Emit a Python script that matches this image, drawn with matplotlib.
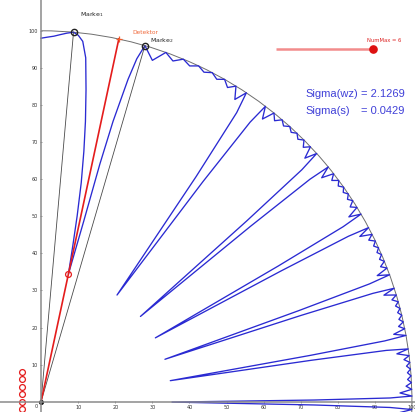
import numpy as np
import matplotlib
matplotlib.use("Agg")
from matplotlib import pyplot as plt
from matplotlib.patches import Arc

# blue curve, polar: angle in degrees, radius
curve_angle = [
    90, 89, 88, 87, 86, 84.98,
    84.2, 83.4, 82.6, 81.8, 81.0, 80.3, 79.6, 79.0, 78.5, 77.9,
    76.7, 76.1, 75.6, 74.9, 74.4, 73.74,
    71.94, 70.33, 68.84, 67.44, 66.12, 64.86, 63.69, 62.52, 61.41, 60.34, 59.31, 58.30, 57.33, 56.39,
    55.91, 55.44, 54.99, 54.54, 54.11, 53.66, 53.21, 52.78,
    51.93, 51.10, 50.27, 49.46, 48.67, 47.89, 47.12, 46.36, 45.62, 44.86, 44.13, 43.42, 42.71, 42.00,
    41.65, 41.31, 40.96, 40.62, 40.28, 39.94, 39.60, 39.26,
    38.59, 37.93, 37.27, 36.62, 35.97, 35.34, 34.70, 34.06, 33.44, 32.82, 32.21, 31.59, 30.98, 30.38,
    30.08, 29.77, 29.48, 29.18, 28.88, 28.58, 28.29, 27.99,
    27.40, 26.82, 26.24, 25.66, 25.08, 24.51, 23.94, 23.37, 22.80, 22.24, 21.68, 21.12, 20.56, 20.01,
    19.73, 19.46, 19.18, 18.90, 18.63, 18.36, 18.08, 17.81,
    17.26, 16.72, 16.18, 15.63, 15.10, 14.56, 14.02, 13.48, 12.95, 12.42, 11.88, 11.35, 10.82, 10.29,
    10.03, 9.76, 9.50, 9.24, 8.97, 8.71, 8.45, 8.18,
    7.66, 7.13, 6.61, 6.08, 5.56, 5.04, 4.52, 3.99, 3.47, 2.95, 2.43, 1.91, 1.39, 0.87,
    0.61, 0.35, 0.09, -0.17, -0.43, -0.69, -0.95, -1.21,
    -1.73, -2.25, -2.77,
]
curve_r = [
    98.0, 98.3, 98.6, 99.1, 99.6, 100,
    99.3, 97.8, 93.5, 85.0, 76.5, 68.5, 60.0, 51.0, 43.0, 35.2,
    50.0, 66.0, 78.0, 90.0, 96.0, 100,
    96.8, 100, 98.5, 100, 99.0, 100, 99.1, 100, 99.0, 100, 98.5, 100, 96.8, 100,
    94.1, 73.7, 47.3, 35.3, 47.3, 73.7, 94.1, 100,
    96.8, 100, 98.5, 100, 99.0, 100, 99.1, 100, 99.0, 100, 98.5, 100, 96.8, 100,
    94.1, 73.7, 47.3, 35.3, 47.3, 73.7, 94.1, 100,
    96.8, 100, 98.5, 100, 99.0, 100, 99.1, 100, 99.0, 100, 98.5, 100, 96.8, 100,
    94.1, 73.7, 47.3, 35.3, 47.3, 73.7, 94.1, 100,
    96.8, 100, 98.5, 100, 99.0, 100, 99.1, 100, 99.0, 100, 98.5, 100, 96.8, 100,
    94.1, 73.7, 47.3, 35.3, 47.3, 73.7, 94.1, 100,
    96.8, 100, 98.5, 100, 99.0, 100, 99.1, 100, 99.0, 100, 98.5, 100, 96.8, 100,
    94.1, 73.7, 47.3, 35.3, 47.3, 73.7, 94.1, 100,
    96.8, 100, 98.5, 100, 99.0, 100, 99.1, 100, 99.0, 100, 98.5, 100, 96.8, 100,
    94.1, 73.7, 47.3, 35.3, 47.3, 73.7, 94.1, 100,
    96.8, 100, 98.5,
]

marke_angle = [84.98, 73.74]
marke_names = ["Marke$_1$", "Marke$_2$"]
detector_angle = 77.9
detector_point_r = 35.2
slit_y = [8, 6, 4, 2, 0, -2, -4, -6, -8]
slit_x = -5.2
num_max = 6
sigma_wz = 2.1269
sigma_s = 0.0429
ticks = list(range(10, 101, 10))

fig = plt.figure(figsize=(4.15, 4.12), dpi=100)
ax = fig.add_axes([0, 0, 1, 1])
ax.set_xlim(-11.05, 100.8)
ax.set_ylim(-2.78, 108.3)
ax.set_aspect("equal")

for side in ["top", "right"]:
    ax.spines[side].set_visible(False)
for side in ["left", "bottom"]:
    ax.spines[side].set_position("zero")
    ax.spines[side].set_color("#8a8a8a")
    ax.spines[side].set_linewidth(1.1)
ax.set_xticks(ticks)
ax.set_yticks(ticks)
ax.tick_params(direction="inout", length=2, width=0.6, color="#8a8a8a",
               labelsize=3.5, labelcolor="#333333", pad=1.5)
ax.text(-1.43, -1.24, "0", fontsize=3.5, color="#333333", ha="center", va="center")

ax.add_patch(Arc((0, 0), 200, 200, theta1=-10, theta2=90, color="#6e6e6e", lw=0.7))

a = np.radians(curve_angle)
r = np.array(curve_r)
ax.plot(r * np.cos(a), r * np.sin(a), color="#2a2ad2", lw=0.95, solid_joinstyle="round")

for ang in marke_angle:
    t = np.radians(ang)
    ax.plot([0, 100 * np.cos(t)], [0, 100 * np.sin(t)], color="#4a4a4a", lw=0.6)
    ax.plot(100 * np.cos(t), 100 * np.sin(t), "o", mfc="none", mec="#222222", ms=4.5, mew=1.0)

td = np.radians(detector_angle)
ax.plot([0, 100 * np.cos(td)], [0, 100 * np.sin(td)], color="#e41c1c", lw=1.2)
ax.plot(100 * np.cos(td), 100 * np.sin(td), "+", color="#f05a28", ms=4.5, mew=0.9)
ax.plot(detector_point_r * np.cos(td), detector_point_r * np.sin(td), "o",
        mfc="none", mec="#e41c1c", ms=4.2, mew=0.9)

ax.plot([slit_x] * len(slit_y), slit_y, "o", mfc="none", mec="#e41c1c", ms=4.2, mew=0.9)
ax.plot(0, 0, "o", color="#111111", ms=2.6)

ax.text(10.5, 104.5, marke_names[0], fontsize=4.5, color="#222222", va="center")
ax.text(29.4, 97.5, marke_names[1], fontsize=4.5, color="#222222", va="center")
ax.text(24.5, 99.6, "Detektor", fontsize=4.2, color="#f06a3c", va="center")

# slider
ax.plot([63.3, 89.4], [95.0, 95.0], color="#f28c8c", lw=1.8, solid_capstyle="butt")
ax.plot(89.4, 95.0, "o", color="#dd1111", ms=5.2)
ax.text(87.9, 97.4, "NumMax = %d" % num_max, fontsize=3.8, color="#dd2222", va="center")

ax.text(71.2, 82.9, "Sigma(wz)", fontsize=8, color="#4040d8", family="Liberation Sans", va="center")
ax.text(86.3, 82.9, "= %.4f" % sigma_wz, fontsize=8, color="#4040d8", family="Liberation Sans", va="center")
ax.text(71.2, 78.3, "Sigma(s)", fontsize=8, color="#4040d8", family="Liberation Sans", va="center")
ax.text(86.3, 78.3, "= %.4f" % sigma_s, fontsize=8, color="#4040d8", family="Liberation Sans", va="center")

fig.savefig("out.png", dpi=100)
